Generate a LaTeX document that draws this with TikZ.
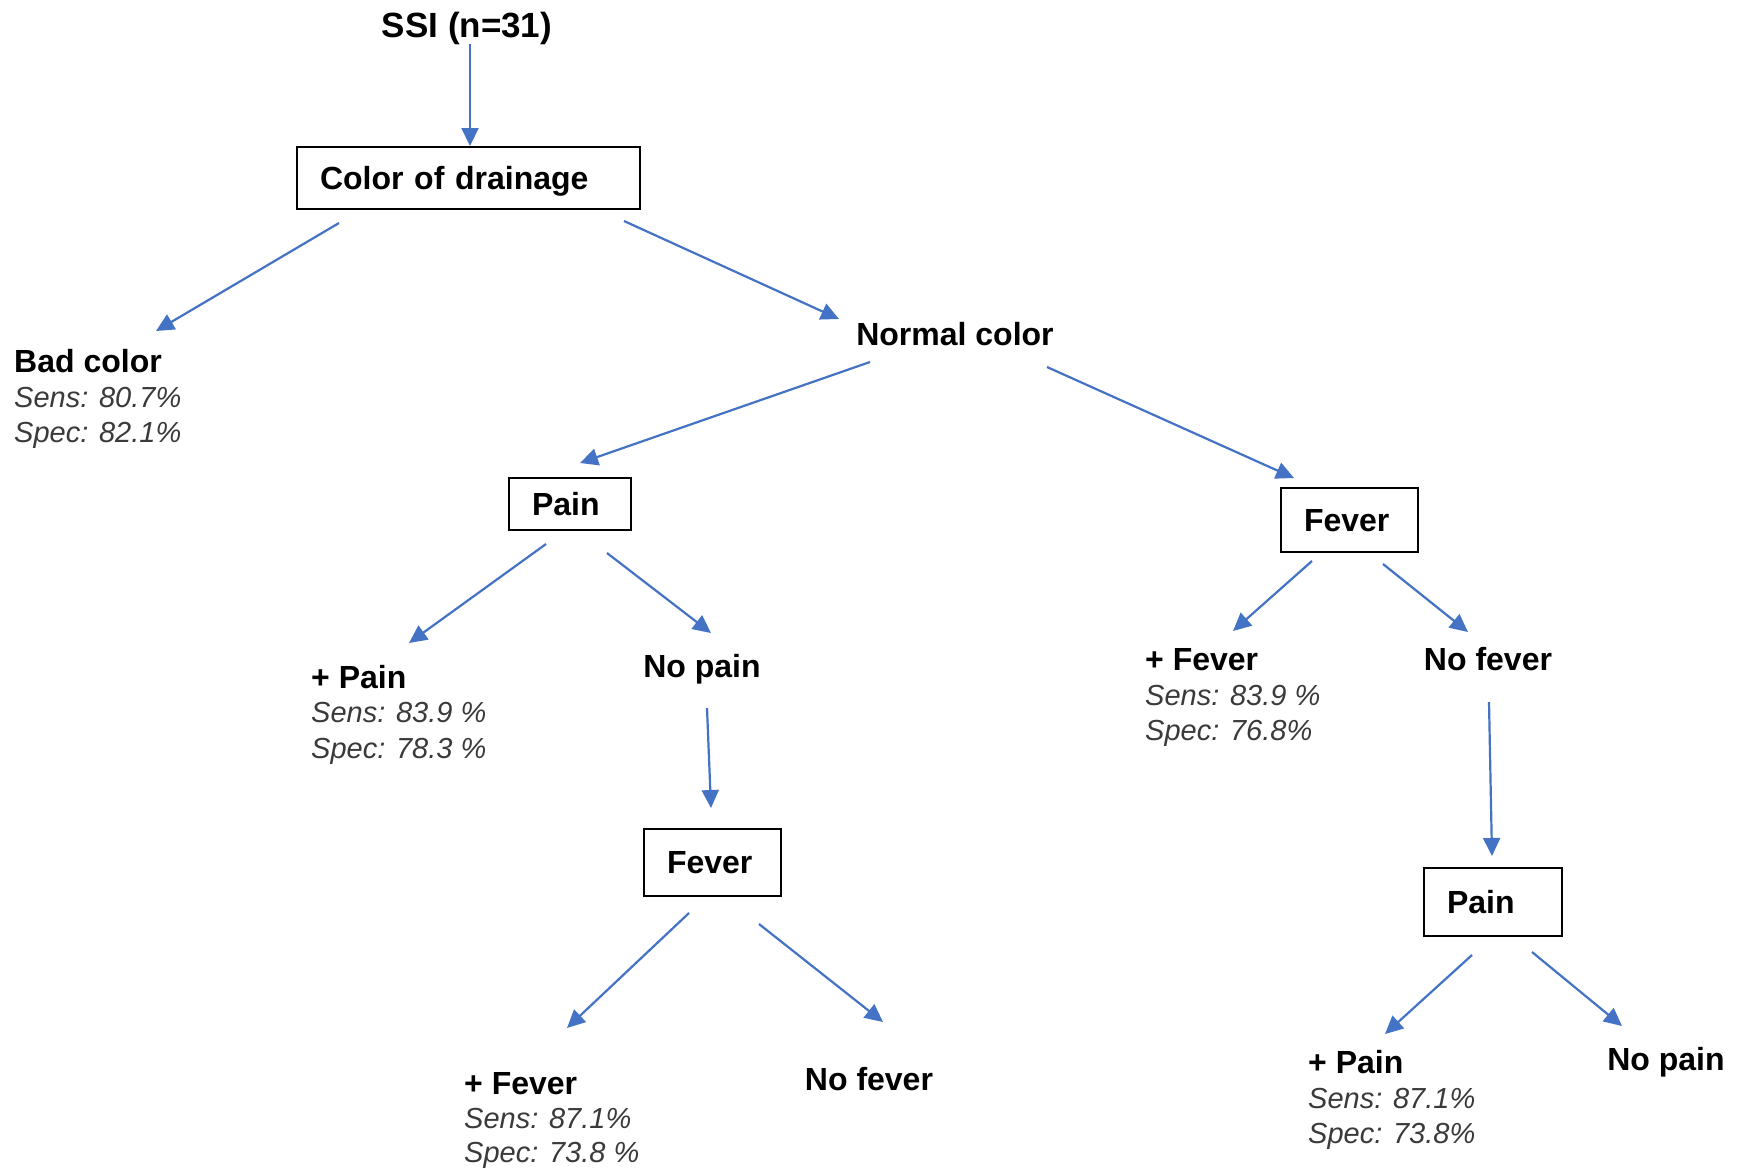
\documentclass[tikz,border=0pt]{standalone}
\usepackage{fontspec}
\setmainfont{Liberation Sans}
\usetikzlibrary{arrows.meta}
\definecolor{arrowblue}{HTML}{4472C4}
\definecolor{statgray}{HTML}{3A3A3A}
\begin{document}
\begin{tikzpicture}[x=1pt,y=-1pt,
  lbl/.style={font=\fontsize{32}{38}\selectfont\bfseries, inner sep=0pt},
  stat/.style={font=\fontsize{29}{34}\selectfont\itshape, text=statgray, inner sep=0pt},
  qbox/.style={draw=black, line width=2pt, inner ysep=0pt, inner xsep=23pt, align=left,
    text height=23pt, text depth=0pt, font=\fontsize{32}{38}\selectfont\bfseries},
  arr/.style={draw=arrowblue, line width=2.2pt, -{Triangle[length=18pt,width=17pt]}}]
  \fill[white] (0,0) rectangle (1742,1168);
  \useasboundingbox (0,0) rectangle (1742,1168);

  % root and question boxes
  \node[lbl, font=\fontsize{35}{40}\selectfont\bfseries, anchor=base] (ssi) at (467,37) {SSI (n=31)};
  \node[qbox, text width=297pt, minimum height=62pt] (cod) at (468.5,178) {Color of drainage};
  \node[qbox, text width=76pt, minimum height=52pt] (pain1) at (570,504) {Pain};
  \node[qbox, text width=91pt, minimum height=64pt] (fever1) at (1349.5,520) {Fever};
  \node[qbox, text width=91pt, minimum height=67pt] (fever2) at (712.5,862) {Fever};
  \node[qbox, text width=92pt, minimum height=68pt] (pain2) at (1493,902) {Pain};

  % outcome labels
  \node[lbl, anchor=base west] (bad) at (14,372) {Bad color};
  \node[stat, anchor=base west] (badsens) at (14,407) {Sens: 80.7\%};
  \node[stat, anchor=base west] (badspec) at (14,442) {Spec: 82.1\%};

  \node[lbl, anchor=base] (normal) at (955,345) {Normal color};

  \node[lbl, anchor=base west] (ppain1) at (311,688) {+ Pain};
  \node[stat, anchor=base west] (ppain1sens) at (311,722) {Sens: 83.9 \%};
  \node[stat, anchor=base west] (ppain1spec) at (311,758) {Spec: 78.3 \%};
  \node[lbl, anchor=base] (nopain1) at (702,677) {No pain};

  \node[lbl, anchor=base west] (pfever2) at (464,1094) {+ Fever};
  \node[stat, anchor=base west] (pfever2sens) at (464,1128) {Sens: 87.1\%};
  \node[stat, anchor=base west] (pfever2spec) at (464,1162) {Spec: 73.8 \%};
  \node[lbl, anchor=base] (nofever2) at (869,1090) {No fever};

  \node[lbl, anchor=base west] (pfever1) at (1145,670) {+ Fever};
  \node[stat, anchor=base west] (pfever1sens) at (1145,705) {Sens: 83.9 \%};
  \node[stat, anchor=base west] (pfever1spec) at (1145,740) {Spec: 76.8\%};
  \node[lbl, anchor=base] (nofever1) at (1488,670) {No fever};

  \node[lbl, anchor=base west] (ppain2) at (1308,1073) {+ Pain};
  \node[stat, anchor=base west] (ppain2sens) at (1308,1108) {Sens: 87.1\%};
  \node[stat, anchor=base west] (ppain2spec) at (1308,1143) {Spec: 73.8\%};
  \node[lbl, anchor=base] (nopain2) at (1666,1070) {No pain};

  % connector end points (the arrows stop short of the labels)
  \coordinate (ssi-s) at (470,44);    \coordinate (cod-e) at (470,146);
  \coordinate (cod-s1) at (339,223);  \coordinate (bad-e) at (156,331);
  \coordinate (cod-s2) at (624,221);  \coordinate (normal-e) at (839,319);
  \coordinate (normal-s1) at (870,362);  \coordinate (pain1-e) at (580,463);
  \coordinate (normal-s2) at (1047,367); \coordinate (fever1-e) at (1294,478);
  \coordinate (pain1-s1) at (546,544);   \coordinate (ppain1-e) at (409,643);
  \coordinate (pain1-s2) at (607,553);   \coordinate (nopain1-e) at (711,633);
  \coordinate (nopain1-s) at (707,708);  \coordinate (fever2-e) at (711,808);
  \coordinate (fever2-s1) at (689,913);  \coordinate (pfever2-e) at (567,1028);
  \coordinate (fever2-s2) at (759,924);  \coordinate (nofever2-e) at (883,1022);
  \coordinate (fever1-s1) at (1312,561); \coordinate (pfever1-e) at (1233,631);
  \coordinate (fever1-s2) at (1383,564); \coordinate (nofever1-e) at (1468,632);
  \coordinate (nofever1-s) at (1489,702); \coordinate (pain2-e) at (1492,856);
  \coordinate (pain2-s1) at (1472,955);  \coordinate (ppain2-e) at (1385,1034);
  \coordinate (pain2-s2) at (1532,952);  \coordinate (nopain2-e) at (1622,1026);

  % connectors
  \draw[arr] (ssi-s) -- (cod-e);
  \draw[arr] (cod-s1) -- (bad-e);
  \draw[arr] (cod-s2) -- (normal-e);
  \draw[arr] (normal-s1) -- (pain1-e);
  \draw[arr] (normal-s2) -- (fever1-e);
  \draw[arr] (pain1-s1) -- (ppain1-e);
  \draw[arr] (pain1-s2) -- (nopain1-e);
  \draw[arr] (nopain1-s) -- (fever2-e);
  \draw[arr] (fever2-s1) -- (pfever2-e);
  \draw[arr] (fever2-s2) -- (nofever2-e);
  \draw[arr] (fever1-s1) -- (pfever1-e);
  \draw[arr] (fever1-s2) -- (nofever1-e);
  \draw[arr] (nofever1-s) -- (pain2-e);
  \draw[arr] (pain2-s1) -- (ppain2-e);
  \draw[arr] (pain2-s2) -- (nopain2-e);
\end{tikzpicture}
\end{document}
